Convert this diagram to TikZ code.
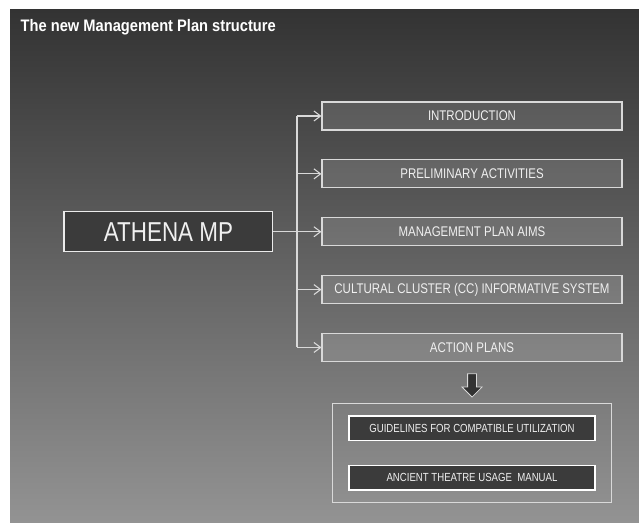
\documentclass[tikz,border=0pt]{standalone}
\usepackage{fontspec}
\setmainfont{Liberation Sans}
\newfontfamily\narrowsf[FakeStretch=0.82]{Liberation Sans}
\newfontfamily\titlesf[FakeStretch=0.88]{Liberation Sans}
\usetikzlibrary{positioning,arrows.meta,fit,shapes.arrows}
\definecolor{bgtop}{HTML}{333333}
\definecolor{bgmid}{HTML}{606060}
\definecolor{bgbot}{HTML}{939393}
\definecolor{darkbox}{HTML}{3B3B3B}
\definecolor{rimgray}{HTML}{D9D9D9}
\definecolor{textgray}{HTML}{F0F0F0}

\begin{document}
\begin{tikzpicture}[
  x=0.75pt, y=-0.75pt,
  font=\narrowsf, text=textgray,
  node distance=21.6pt,
  mainbox/.style={draw=white!92!black, line width=1pt, fill=darkbox,
                  minimum width=156.5pt, minimum height=30pt, inner sep=0pt,
                  font=\narrowsf\fontsize{20.5}{24}\selectfont},
  topic/.style={draw=rimgray, line width=0.8pt, fill=white, fill opacity=0.12,
                text opacity=1, minimum width=225pt, minimum height=21pt,
                inner sep=0pt, font=\narrowsf\fontsize{10.5}{12}\selectfont},
  toolbox/.style={draw=white, line width=1.1pt, fill=darkbox,
                  minimum width=184.5pt, minimum height=18.5pt, inner sep=0pt,
                  font=\narrowsf\fontsize{8.8}{10}\selectfont},
  groupbox/.style={draw=rimgray, line width=0.8pt, inner xsep=12pt, inner ysep=9pt},
  downarrow/.style={single arrow, shape border rotate=270, draw=rimgray,
                    fill=darkbox!85!black, line width=0.6pt, inner sep=3pt,
                    minimum height=17.5pt, single arrow head extend=4.2pt},
  link/.style={draw=rimgray, line width=0.8pt},
  linkarr/.style={link, -{Straight Barb[length=5pt,width=7.5pt]}},
]
%====================== BACKGROUND ======================
\useasboundingbox (0,0) rectangle (639,523);
\fill[white] (0,0) rectangle (639,523);
\shade[top color=bgtop, middle color=bgmid, bottom color=bgbot] (10,10) rectangle (639,523);

\node[anchor=base west, text=white, font=\titlesf\bfseries\fontsize{12.5}{14}\selectfont]
     (title) at (16,32) {The new Management Plan structure};

%====================== PLAN SECTIONS ======================
\node[topic] (intro)  at (472,116)       {INTRODUCTION};
\node[topic, below=of intro]  (prelim)   {PRELIMINARY ACTIVITIES};
\node[topic, below=of prelim] (aims)     {MANAGEMENT PLAN AIMS};
\node[topic, below=of aims]   (cc)       {CULTURAL CLUSTER (CC) INFORMATIVE SYSTEM};
\node[topic, below=of cc]     (act)      {ACTION PLANS};

%====================== MAIN NODE ======================
\node[mainbox, left=36pt of aims] (athena) {ATHENA MP};

%====================== OUTPUTS ======================
\node[downarrow, below=8.5pt of act] (down) {};
\node[toolbox, below=40pt of act]  (guide)  {GUIDELINES FOR COMPATIBLE UTILIZATION};
\node[toolbox, below=17.5pt of guide] (manual) {ANCIENT THEATRE USAGE\ \ MANUAL};
\node[groupbox, fit=(guide)(manual)] (tools) {};

%====================== CONNECTORS ======================
\coordinate (trunk) at (297,0);
\draw[link] (intro.west -| trunk) -- (act.west -| trunk);
\draw[linkarr] (athena.east) -- (aims.west);
\foreach \sec in {intro,prelim,cc,act}
  \draw[linkarr] (\sec.west -| trunk) -- (\sec.west);
\end{tikzpicture}
\end{document}
